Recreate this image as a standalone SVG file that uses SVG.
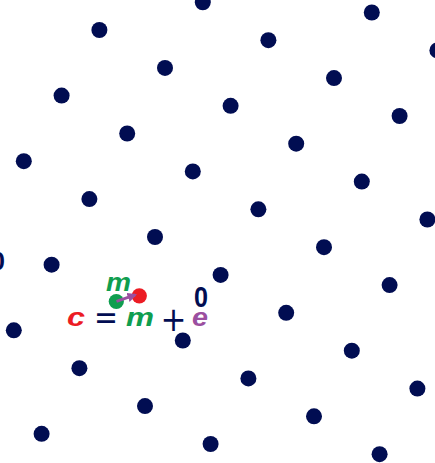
<svg xmlns="http://www.w3.org/2000/svg" width="435" height="463" viewBox="0 0 435 463">
<style>
.pt{fill:#010d52}
.f{font-family:"Liberation Sans",Arial,sans-serif;font-weight:bold}
.it{font-style:italic}
.op{font-family:"DejaVu Sans",sans-serif;font-weight:normal;fill:#010d52}
</style>
<defs>
<marker id="ah" viewBox="0 0 10 10" refX="8" refY="5" markerWidth="3.4" markerHeight="3.6" orient="auto" markerUnits="strokeWidth">
<path d="M0,0 L10,5 L0,10 z" fill="#9b4fa0"/>
</marker>
</defs>
<rect width="435" height="463" fill="#ffffff"/>
<g id="lattice">
<circle class="pt" cx="371.8" cy="12.5" r="8"/>
<circle class="pt" cx="437.4" cy="50.4" r="8"/>
<circle class="pt" cx="202.8" cy="2.3" r="8"/>
<circle class="pt" cx="268.4" cy="40.2" r="8"/>
<circle class="pt" cx="334" cy="78.1" r="8"/>
<circle class="pt" cx="399.6" cy="116" r="8"/>
<circle class="pt" cx="99.4" cy="30" r="8"/>
<circle class="pt" cx="165" cy="67.9" r="8"/>
<circle class="pt" cx="230.6" cy="105.8" r="8"/>
<circle class="pt" cx="296.2" cy="143.7" r="8"/>
<circle class="pt" cx="361.8" cy="181.6" r="8"/>
<circle class="pt" cx="427.4" cy="219.5" r="8"/>
<circle class="pt" cx="61.6" cy="95.6" r="8"/>
<circle class="pt" cx="127.2" cy="133.5" r="8"/>
<circle class="pt" cx="192.8" cy="171.4" r="8"/>
<circle class="pt" cx="258.4" cy="209.3" r="8"/>
<circle class="pt" cx="324" cy="247.2" r="8"/>
<circle class="pt" cx="389.6" cy="285.1" r="8"/>
<circle class="pt" cx="23.8" cy="161.2" r="8"/>
<circle class="pt" cx="89.4" cy="199.1" r="8"/>
<circle class="pt" cx="155" cy="237" r="8"/>
<circle class="pt" cx="220.6" cy="274.9" r="8"/>
<circle class="pt" cx="286.2" cy="312.8" r="8"/>
<circle class="pt" cx="351.8" cy="350.7" r="8"/>
<circle class="pt" cx="417.4" cy="388.6" r="8"/>
<circle class="pt" cx="51.6" cy="264.7" r="8"/>
<circle class="pt" cx="182.8" cy="340.5" r="8"/>
<circle class="pt" cx="248.4" cy="378.4" r="8"/>
<circle class="pt" cx="314" cy="416.3" r="8"/>
<circle class="pt" cx="379.6" cy="454.2" r="8"/>
<circle class="pt" cx="13.8" cy="330.3" r="8"/>
<circle class="pt" cx="79.4" cy="368.2" r="8"/>
<circle class="pt" cx="145" cy="406.1" r="8"/>
<circle class="pt" cx="210.6" cy="444" r="8"/>
<circle class="pt" cx="41.6" cy="433.8" r="8"/>
</g>
<g id="m-point">
<circle cx="116.3" cy="301.5" r="7.6" fill="#0f9e4f"/>
</g>
<g id="c-point">
<circle cx="139.3" cy="295.8" r="7.6" fill="#ec1c24"/>
</g>
<g id="connectors">
<line x1="116.5" y1="301.4" x2="135.2" y2="294.9" stroke="#9b4fa0" stroke-width="2.8" marker-end="url(#ah)"/>
</g>
<g id="labels">
<text class="f" x="-9.5" y="270" font-size="26" fill="#010d52">0</text>
<text class="f it" x="106" y="291" font-size="26" fill="#0f9e4f" textLength="25" lengthAdjust="spacingAndGlyphs">m</text>
<text class="f it" x="67" y="325.5" font-size="26" fill="#ec1c24" textLength="18" lengthAdjust="spacingAndGlyphs">c</text>
<text class="op" x="94" y="329" font-size="34" textLength="24" lengthAdjust="spacingAndGlyphs">=</text>
<text class="f it" x="126" y="325.5" font-size="26" fill="#0f9e4f" textLength="28" lengthAdjust="spacingAndGlyphs">m</text>
<text class="op" x="160.5" y="331" font-size="34" textLength="26" lengthAdjust="spacingAndGlyphs">+</text>
<text class="f it" x="192" y="325.5" font-size="26" fill="#9b4fa0" textLength="16" lengthAdjust="spacingAndGlyphs">e</text>
<text class="f" x="194" y="306.5" font-size="29" fill="#010d52" textLength="14" lengthAdjust="spacingAndGlyphs">0</text>
</g>
</svg>
